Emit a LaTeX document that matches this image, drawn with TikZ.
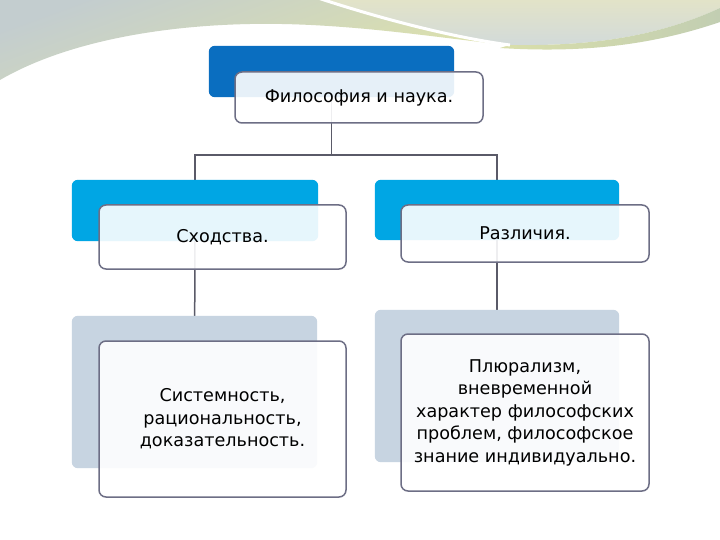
\documentclass[tikz,border=0pt]{standalone}
\usepackage{fontspec}
\setmainfont{DejaVu Sans}
\definecolor{topblue}{HTML}{0A6EC0}
\definecolor{cyanblue}{HTML}{00A6E4}
\definecolor{greyblue}{HTML}{C7D4E1}
\definecolor{frameline}{HTML}{6D6E85}
\definecolor{connline}{HTML}{5A5A68}
\definecolor{bggrey}{HTML}{C3CDCF}
\definecolor{bgyellow}{HTML}{DFE3A8}
\definecolor{bglight}{HTML}{E2E3C8}
\definecolor{bglight2}{HTML}{D2DADA}
\definecolor{bgband}{HTML}{C2CEB2}
\tikzset{
  backbox/.style={rounded corners=6pt, inner sep=0pt},
  frontbox/.style={draw=frameline, line width=1.5pt, rounded corners=7pt,
    fill=white, fill opacity=0.9, text opacity=1, inner sep=0pt,
    align=center, font=\fontsize{17.6}{22.5}\selectfont},
  conn/.style={draw=connline, line width=1.5pt},
}
\begin{document}
\begin{tikzpicture}[x=1pt,y=-1pt]
\useasboundingbox (0,0) rectangle (720,540);
\fill[white] (0,0) rectangle (720,540);
% background decoration
\shade[top color=bggrey, bottom color=bgyellow, shading angle=20]
  (0,0) -- (322,0) .. controls (400,25) and (470,40) .. (510,45)
  .. controls (450,40) and (350,22) .. (250,24)
  .. controls (150,26) and (60,45) .. (0,80) -- cycle;
\shade[top color=bglight, bottom color=bglight2]
  (322,0) -- (720,0) -- (720,8) .. controls (650,40) and (580,46) .. (510,45)
  .. controls (470,40) and (400,25) .. (322,0) -- cycle;
\shade[left color=bgyellow!80!bgband, right color=bgband]
  (510,45) .. controls (580,46) and (650,40) .. (720,8) -- (720,22)
  .. controls (650,46) and (580,53) .. (500,48) -- cycle;
\draw[white, line width=3pt] (318,-2) .. controls (400,25) and (470,40) .. (510,45);
% back boxes (placed first so the connectors can name them)
\node[backbox, minimum width=245pt, minimum height=51pt] (tb) at (331.5,71.5) {};
\node[backbox, minimum width=246pt, minimum height=61pt] (lb) at (195,210.5) {};
\node[backbox, minimum width=244pt, minimum height=60pt] (rb) at (497,210) {};
\node[backbox, minimum width=245pt, minimum height=152pt] (lc) at (194.5,392) {};
\node[backbox, minimum width=244pt, minimum height=152pt] (rc) at (497,386) {};
% connectors (beneath boxes)
\draw[conn] (tb.center) -- (tb.center |- 0,155) coordinate (j) -| (lb.center);
\draw[conn] (j) -| (rb.center);
\draw[conn] (lb.center) -- (lc.center);
\draw[conn] (rb.center) -- (rc.center);
% back box fills over connectors
\fill[topblue, rounded corners=6pt] (tb.north west) rectangle (tb.south east);
\fill[cyanblue, rounded corners=6pt] (lb.north west) rectangle (lb.south east);
\fill[cyanblue, rounded corners=6pt] (rb.north west) rectangle (rb.south east);
\fill[greyblue, rounded corners=6pt] (lc.north west) rectangle (lc.south east);
\fill[greyblue, rounded corners=6pt] (rc.north west) rectangle (rc.south east);
% front boxes
\node[frontbox, minimum width=248pt, minimum height=51pt] (tf) at (359,97.5) {Философия и наука.};
\node[frontbox, minimum width=247pt, minimum height=64pt] (lf) at (222.5,237) {Сходства.};
\node[frontbox, minimum width=248pt, minimum height=57pt] (rf) at (525,233.5) {Различия.};
\node[frontbox, minimum width=247pt, minimum height=156pt] (lg) at (222.5,419) {Системность,\\рациональность,\\доказательность.};
\node[frontbox, minimum width=248pt, minimum height=157pt] (rg) at (525,412.5) {Плюрализм,\\вневременной\\характер философских\\проблем, философское\\знание индивидуально.};
\end{tikzpicture}
\end{document}
